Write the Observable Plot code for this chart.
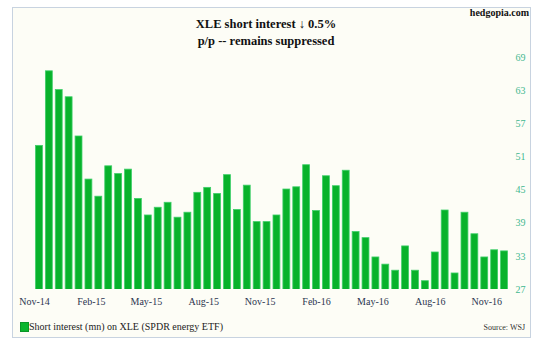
<!DOCTYPE html>
<html>
<head>
<meta charset="utf-8">
<script src="https://cdn.jsdelivr.net/npm/d3@7"></script>
<script src="https://cdn.jsdelivr.net/npm/@observablehq/plot@0.6"></script>
<style>
  html, body { margin: 0; padding: 0; background: #ffffff; width: 540px; height: 350px; overflow: hidden; }
  #frame { position: absolute; left: 12px; top: 7px; width: 517px; height: 329px; border: 1px solid #c8d3e0; background: #fdfdf6; }
  .serif { font-family: "Liberation Serif", "DejaVu Serif", serif; }
  #site { position: absolute; right: 11px; top: 7px; font-size: 10px; font-weight: bold; color: #111; }
  #title { position: absolute; left: 0; top: 16px; width: 532px; text-align: center; font-size: 12.5px; font-weight: bold; line-height: 17px; color: #111; }
  #chart { position: absolute; left: 0; top: 50px; }
  #legend { position: absolute; left: 20px; top: 321px; font-size: 10px; color: #222; display: flex; align-items: center; }
  #legend .sw { width: 7px; height: 8px; background: #0bb52d; border: 1px solid #0a9627; margin-right: 0px; }
  #source { position: absolute; right: 15px; top: 323px; font-size: 8px; color: #333; }
</style>
</head>
<body>
<div id="frame"></div>
<div id="site" class="serif">hedgopia.com</div>
<div id="title" class="serif">XLE short interest ↓ 0.5%<br>p/p -- remains suppressed</div>
<div id="chart"></div>
<div id="legend" class="serif"><span class="sw"></span><span>Short interest (mn) on XLE (SPDR energy ETF)</span></div>
<div id="source" class="serif">Source: WSJ</div>
<script>
// Short interest (mn shares), semi-monthly, Nov-14 .. Nov-16
const shortInterest = [
  53.0, 66.5, 63.1, 61.8, 54.7, 46.9, 43.8, 49.3, 47.9, 48.7,
  43.4, 40.4, 41.8, 42.7, 40.0, 40.9, 44.5, 45.4, 44.3, 47.7,
  41.4, 45.8, 39.2, 39.2, 40.4, 45.1, 45.5, 49.5, 41.2, 47.5,
  45.7, 48.5, 37.4, 36.3, 32.8, 31.5, 30.4, 34.8, 30.4, 28.5,
  33.7, 41.3, 29.9, 40.9, 37.0, 32.8, 34.1, 33.9
];
const xTickLabels = ["Nov-14", "Feb-15", "May-15", "Aug-15", "Nov-15", "Feb-16", "May-16", "Aug-16", "Nov-16"];
const xTickPositions = [0, 5.75, 11.3, 17.1, 22.8, 28.5, 34.2, 40.0, 45.7];
const yTicks = [27, 33, 39, 45, 51, 57, 63, 69];

const data = shortInterest.map((v, i) => ({i, value: v}));

const chart = Plot.plot({
  width: 540,
  height: 265,
  marginTop: 7,
  marginBottom: 26,
  marginLeft: 34,
  marginRight: 31,
  style: { fontFamily: "Liberation Serif, serif", fontSize: "10px", background: "transparent", overflow: "visible" },
  x: { type: "linear", domain: [0, shortInterest.length], axis: null },
  y: { domain: [27, 69], axis: null },
  marks: [
    Plot.rectY(data, { x: "i", y: "value", interval: 1, insetLeft: 1.5, insetRight: 1.5, fill: "#08b22b", stroke: "#3fcf6a", strokeWidth: 0.8, clip: true }),
    Plot.axisY(yTicks, { anchor: "right", tickSize: 0, tickPadding: 6, color: "#3fb890", fontSize: 10, label: null, tickFormat: d => String(d) }),
    Plot.axisX(xTickPositions, { anchor: "bottom", tickSize: 0, tickPadding: 8, color: "#2c3550", fontSize: 10, label: null, tickFormat: (d, k) => xTickLabels[k] })
  ]
});
document.getElementById("chart").appendChild(chart);
</script>
</body>
</html>
